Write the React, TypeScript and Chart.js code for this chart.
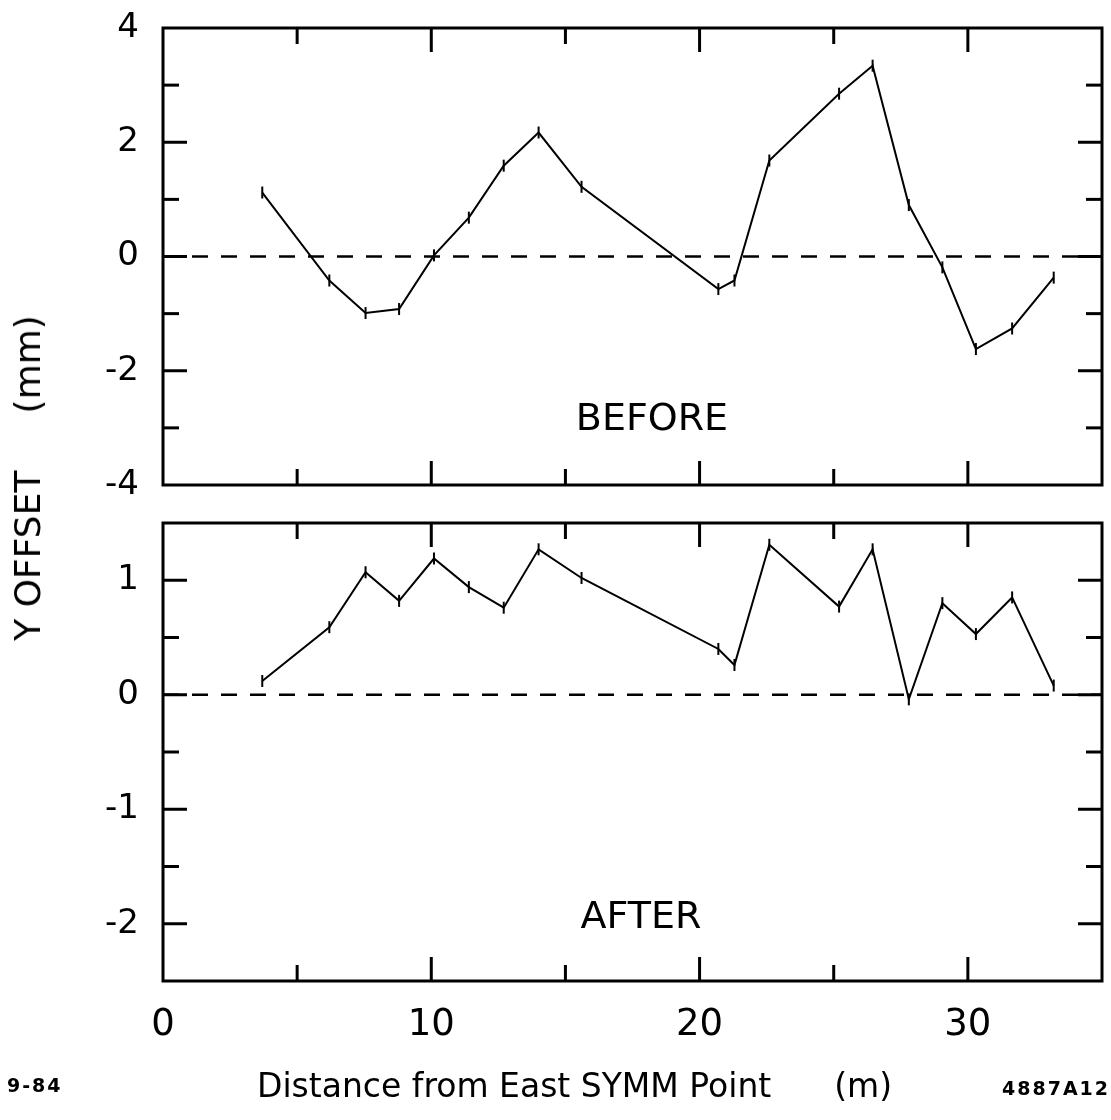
import React, { useEffect, useRef } from "react";
import { Chart, registerables } from "chart.js";

Chart.register(...registerables);

// ---- data ----
const positions = [3.7, 6.2, 7.55, 8.8, 10.1, 11.4, 12.7, 14.0, 15.6, 20.7, 21.3, 22.6, 25.2, 26.45, 27.8, 29.05, 30.3, 31.65, 33.2];
const beforeOffsets = [1.12, -0.42, -0.99, -0.92, 0.02, 0.68, 1.59, 2.17, 1.22, -0.57, -0.42, 1.68, 2.85, 3.34, 0.9, -0.19, -1.62, -1.26, -0.37];
const afterOffsets = [0.12, 0.59, 1.07, 0.82, 1.19, 0.94, 0.76, 1.27, 1.02, 0.4, 0.26, 1.31, 0.77, 1.27, -0.04, 0.8, 0.53, 0.85, 0.08];
const baselineX = [0, 35];
const baselineY = [0, 0];

const xRange = [0, 35];
const xTickLabels = [0, 10, 20, 30];
const xMajorTicks = [10, 20, 30];
const xMinorTicks = [5, 15, 25];

const beforeRange = [-4, 4];
const beforeTickLabels = [-4, -2, 0, 2, 4];
const beforeMajorTicks = [-2, 0, 2];
const beforeMinorTicks = [-3, -1, 1, 3];

const afterRange = [-2.5, 1.5];
const afterTickLabels = [-2, -1, 0, 1];
const afterMajorTicks = [-2, -1, 0, 1];
const afterMinorTicks = [-1.5, -0.5, 0.5];

const FONT = "'DejaVu Sans', sans-serif";

const framePlugin = {
  id: "frameTicks",
  afterDraw(chart: any, _args: any, opts: any) {
    const { ctx, chartArea } = chart;
    const { left, right, top, bottom } = chartArea;
    const xs = chart.scales.x;
    const ys = chart.scales.y;
    const MAJ = 24;
    const MIN = 16;
    ctx.save();
    ctx.strokeStyle = "#000";
    ctx.lineWidth = 3;
    ctx.lineCap = "butt";
    ctx.strokeRect(left, top, right - left, bottom - top);
    const seg = (x1: number, y1: number, x2: number, y2: number) => {
      ctx.beginPath();
      ctx.moveTo(x1, y1);
      ctx.lineTo(x2, y2);
      ctx.stroke();
    };
    (opts.xMajor || []).forEach((v: number) => {
      const p = xs.getPixelForValue(v);
      seg(p, top, p, top + MAJ);
      seg(p, bottom, p, bottom - MAJ);
    });
    (opts.xMinor || []).forEach((v: number) => {
      const p = xs.getPixelForValue(v);
      seg(p, top, p, top + MIN);
      seg(p, bottom, p, bottom - MIN);
    });
    (opts.yMajor || []).forEach((v: number) => {
      const p = ys.getPixelForValue(v);
      seg(left, p, left + MAJ, p);
      seg(right, p, right - MAJ, p);
    });
    (opts.yMinor || []).forEach((v: number) => {
      const p = ys.getPixelForValue(v);
      seg(left, p, left + MIN, p);
      seg(right, p, right - MIN, p);
    });
    ctx.restore();
  },
};

function makeConfig(opts: {
  values: number[];
  yRange: number[];
  yLabels: number[];
  yMajor: number[];
  yMinor: number[];
  showX: boolean;
  padding: any;
  xHeight: number;
}) {
  const data = positions.map((x, i) => ({ x, y: opts.values[i] }));
  const base = baselineX.map((x, i) => ({ x, y: baselineY[i] }));
  return {
    type: "line",
    data: {
      datasets: [
        {
          data: base,
          borderColor: "#000",
          borderWidth: 2.5,
          borderDash: [16, 13],
          pointRadius: 0,
          fill: false,
        },
        {
          data,
          borderColor: "#000",
          borderWidth: 2,
          tension: 0,
          fill: false,
          pointStyle: "line",
          pointRotation: 90,
          pointRadius: 6,
          pointBorderWidth: 2,
          pointBorderColor: "#000",
          pointBackgroundColor: "#000",
        },
      ],
    },
    options: {
      animation: false,
      responsive: false,
      maintainAspectRatio: false,
      events: [],
      layout: { padding: opts.padding },
      plugins: {
        legend: { display: false },
        tooltip: { enabled: false },
        title: { display: false },
        frameTicks: {
          xMajor: xMajorTicks,
          xMinor: xMinorTicks,
          yMajor: opts.yMajor,
          yMinor: opts.yMinor,
        },
      },
      scales: {
        x: {
          type: "linear",
          min: xRange[0],
          max: xRange[1],
          display: opts.showX,
          grid: { display: false, drawTicks: false },
          border: { display: false },
          ticks: {
            color: "#000",
            padding: 22,
            maxRotation: 0,
            font: { family: FONT, size: 37 },
            callback: (v: number) => String(v),
          },
          afterBuildTicks: (s: any) => {
            s.ticks = xTickLabels.map((value) => ({ value }));
          },
          afterFit: (s: any) => {
            s.height = opts.xHeight;
            s.paddingLeft = 0;
            s.paddingRight = 0;
          },
        },
        y: {
          type: "linear",
          min: opts.yRange[0],
          max: opts.yRange[1],
          grid: { display: false, drawTicks: false },
          border: { display: false },
          ticks: {
            color: "#000",
            padding: 24,
            font: { family: FONT, size: 34 },
            callback: (v: number) => String(v),
          },
          afterBuildTicks: (s: any) => {
            s.ticks = opts.yLabels.map((value) => ({ value }));
          },
          afterFit: (s: any) => {
            s.width = 163;
            s.paddingTop = 0;
            s.paddingBottom = 0;
          },
        },
      },
    },
    plugins: [framePlugin],
  } as any;
}

function Panel(props: { config: any; top: number; height: number }) {
  const ref = useRef<HTMLCanvasElement | null>(null);
  useEffect(() => {
    if (!ref.current) return;
    const chart = new Chart(ref.current, props.config);
    return () => chart.destroy();
  }, []);
  return (
    <canvas
      ref={ref}
      width={1111}
      height={props.height}
      style={{ position: "absolute", left: 0, top: props.top, width: 1111, height: props.height }}
    />
  );
}

const textBase: React.CSSProperties = {
  position: "absolute",
  fontFamily: FONT,
  color: "#000",
  lineHeight: 1,
  whiteSpace: "pre",
};

export default function App() {
  const topConfig = makeConfig({
    values: beforeOffsets,
    yRange: beforeRange,
    yLabels: beforeTickLabels,
    yMajor: beforeMajorTicks,
    yMinor: beforeMinorTicks,
    showX: false,
    padding: { top: 28, right: 9, bottom: 25, left: 0 },
    xHeight: 0,
  });
  const bottomConfig = makeConfig({
    values: afterOffsets,
    yRange: afterRange,
    yLabels: afterTickLabels,
    yMajor: afterMajorTicks,
    yMinor: afterMinorTicks,
    showX: true,
    padding: { top: 13, right: 9, bottom: 0, left: 0 },
    xHeight: 139,
  });
  return (
    <div style={{ position: "absolute", left: 0, top: 0, width: 1111, height: 1120, background: "#fff", overflow: "hidden" }}>
      <Panel config={topConfig} top={0} height={510} />
      <Panel config={bottomConfig} top={510} height={610} />
      <div style={{ ...textBase, left: 652, top: 417, fontSize: 38, transform: "translate(-50%, -50%)" }}>BEFORE</div>
      <div style={{ ...textBase, left: 641, top: 915, fontSize: 38, transform: "translate(-50%, -50%)" }}>AFTER</div>
      <div style={{ ...textBase, left: 28, top: 478, fontSize: 36, transform: "translate(-50%, -50%) rotate(-90deg)" }}>
        {"Y OFFSET     (mm)"}
      </div>
      <div style={{ ...textBase, left: 257, top: 1085, fontSize: 33, transform: "translateY(-50%)" }}>
        {"Distance from East SYMM Point      (m)"}
      </div>
      <div style={{ ...textBase, left: 7, top: 1085, fontSize: 19, fontWeight: "bold", letterSpacing: 2, transform: "translateY(-50%)" }}>
        9-84
      </div>
      <div style={{ ...textBase, left: 1002, top: 1088, fontSize: 19, fontWeight: "bold", letterSpacing: 2, transform: "translateY(-50%)" }}>
        4887A12
      </div>
    </div>
  );
}
